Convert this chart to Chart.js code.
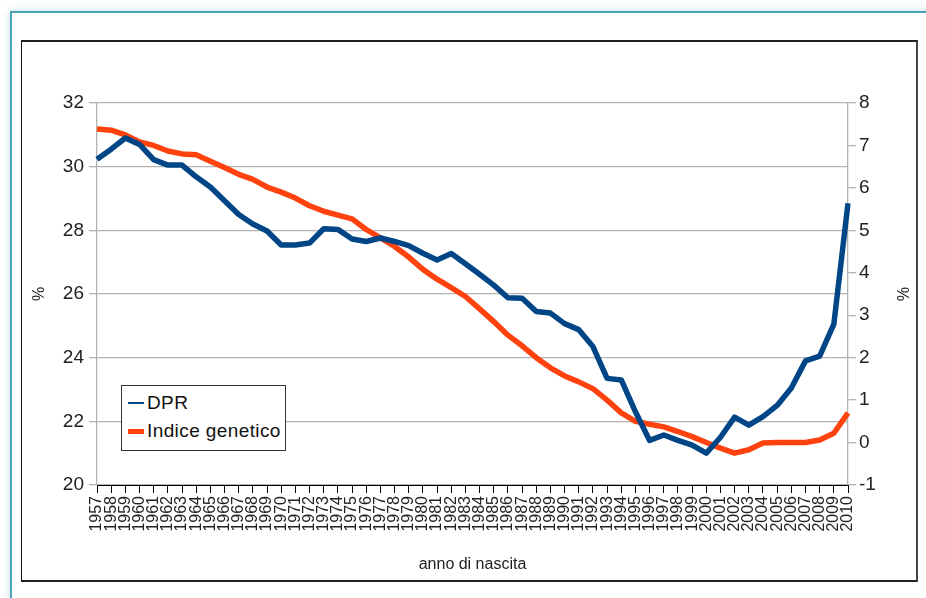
<!DOCTYPE html>
<html>
<head>
<meta charset="utf-8">
<script src="https://cdn.jsdelivr.net/npm/chart.js@4"></script>
<style>
  html, body { margin: 0; padding: 0; background: #ffffff; }
  body { width: 926px; height: 598px; position: relative; overflow: hidden; font-family: "Liberation Sans", Arial, sans-serif; }
  #frame { position: absolute; left: 10px; top: 11px; width: 1000px; height: 1000px; border: 2px solid #4aa3b6; box-shadow: 0 0 8px rgba(74,163,182,0.35); background: #fff; }
  #box { position: absolute; left: 21px; top: 40px; width: 894px; height: 538px; border: 1px solid #111; border-right: 2px solid #444; border-top: 2px solid #222; border-bottom: 2px solid #222; background: #fff; }
  #wrap { position: absolute; left: 0; top: 0; width: 926px; height: 598px; }
  #legend { position: absolute; left: 121px; top: 385px; width: 163px; height: 64px; border: 1.5px solid #333; background: #fff; color: #111; font-size: 19px; letter-spacing: 0.4px; }
  .row { position: absolute; left: 0; height: 24px; line-height: 24px; }
  .sw { position: absolute; left: 6px; width: 16px; }
  .lbl { position: absolute; left: 25px; white-space: nowrap; top: 0; }
</style>
</head>
<body>
<div id="frame"></div>
<div id="box"></div>
<div id="wrap"><canvas id="c" width="926" height="598"></canvas></div>
<div id="legend">
  <div class="row" style="top:5px;"><div class="sw" style="top:11px;height:2px;background:#004586;"></div><span class="lbl">DPR</span></div>
  <div class="row" style="top:33px;"><div class="sw" style="top:10px;height:5px;background:#ff420e;"></div><span class="lbl">Indice genetico</span></div>
</div>
<script>
const years = [];
for (let y = 1957; y <= 2010; y++) years.push(String(y));

const dpr = [
  30.23, 30.55, 30.9, 30.7, 30.22, 30.05, 30.05, 29.68, 29.36, 28.93,
  28.5, 28.2, 27.98, 27.54, 27.54, 27.6, 28.05, 28.03, 27.73, 27.65,
  27.76, 27.65, 27.52, 27.28, 27.07, 27.27, 26.95, 26.62, 26.28, 25.88,
  25.87, 25.45, 25.4, 25.07, 24.88, 24.35, 23.35, 23.3, 22.3, 21.4,
  21.57, 21.4, 21.25, 21.0, 21.5, 22.13, 21.88, 22.15, 22.5, 23.05,
  23.9, 24.05, 25.05, 28.85
];

const indiceGenetico = [
  7.39, 7.36, 7.25, 7.08, 7.0, 6.87, 6.8, 6.78, 6.63, 6.48,
  6.32, 6.2, 6.02, 5.9, 5.76, 5.58, 5.45, 5.36, 5.27, 5.02,
  4.82, 4.62, 4.37, 4.08, 3.85, 3.65, 3.44, 3.15, 2.85, 2.53,
  2.28, 2.0, 1.76, 1.57, 1.43, 1.27, 1.0, 0.7, 0.5, 0.43,
  0.37, 0.26, 0.14, 0.0, -0.13, -0.25, -0.17, -0.01, 0.0, 0.0,
  0.0, 0.06, 0.22, 0.7
];

const seriesNames = ["DPR", "Indice genetico"];
const xTitle = "anno di nascita";
const yTitle = "%";

const fam = "'Liberation Sans', Arial, sans-serif";
const tickFont = { family: fam, size: 19 };

new Chart(document.getElementById('c'), {
  type: 'line',
  data: {
    labels: years,
    datasets: [
      { label: seriesNames[0], data: dpr, yAxisID: 'y', borderColor: '#004586', backgroundColor: '#004586', borderWidth: 5.5, pointRadius: 0, tension: 0, borderJoinStyle: 'round' },
      { label: seriesNames[1], data: indiceGenetico, yAxisID: 'y1', borderColor: '#ff420e', backgroundColor: '#ff420e', borderWidth: 5.5, pointRadius: 0, tension: 0, borderJoinStyle: 'round' }
    ]
  },
  options: {
    responsive: false,
    animation: false,
    events: [],
    layout: { padding: { left: 22, right: 12, top: 103, bottom: 18 } },
    plugins: { legend: { display: false }, tooltip: { enabled: false } },
    scales: {
      x: {
        type: 'category',
        offset: false,
        afterFit: s => { s.height = 95; },
        grid: { display: true, drawOnChartArea: false, drawTicks: true, tickLength: 8, color: '#000' },
        border: { display: true, color: '#000', width: 1 },
        ticks: { autoSkip: false, maxRotation: 90, minRotation: 90, padding: 3, color: '#222', font: { family: fam, size: 16 } },
        title: { display: true, text: xTitle, color: '#222', padding: { top: 4, bottom: 6 }, font: { family: fam, size: 16 } }
      },
      y: {
        position: 'left',
        min: 20, max: 32,
        afterFit: s => { s.width = 75; },
        ticks: { stepSize: 2, padding: 5, color: '#222', font: tickFont },
        grid: { color: '#b3b3b3', lineWidth: 1.3, tickLength: 8 },
        border: { display: true, color: '#b3b3b3', width: 1.3 },
        title: { display: true, text: yTitle, color: '#222', padding: { top: 8, bottom: 0 }, font: { family: fam, size: 16 } }
      },
      y1: {
        position: 'right',
        min: -1, max: 8,
        afterFit: s => { s.width = 66; },
        ticks: { stepSize: 1, padding: 3, color: '#222', font: tickFont },
        grid: { drawOnChartArea: false, color: '#b3b3b3', lineWidth: 1.3, tickLength: 8 },
        border: { display: true, color: '#b3b3b3', width: 1.3 },
        title: { display: true, text: yTitle, color: '#222', padding: { top: 3, bottom: 0 }, font: { family: fam, size: 16 } }
      }
    }
  }
});
</script>
</body>
</html>
